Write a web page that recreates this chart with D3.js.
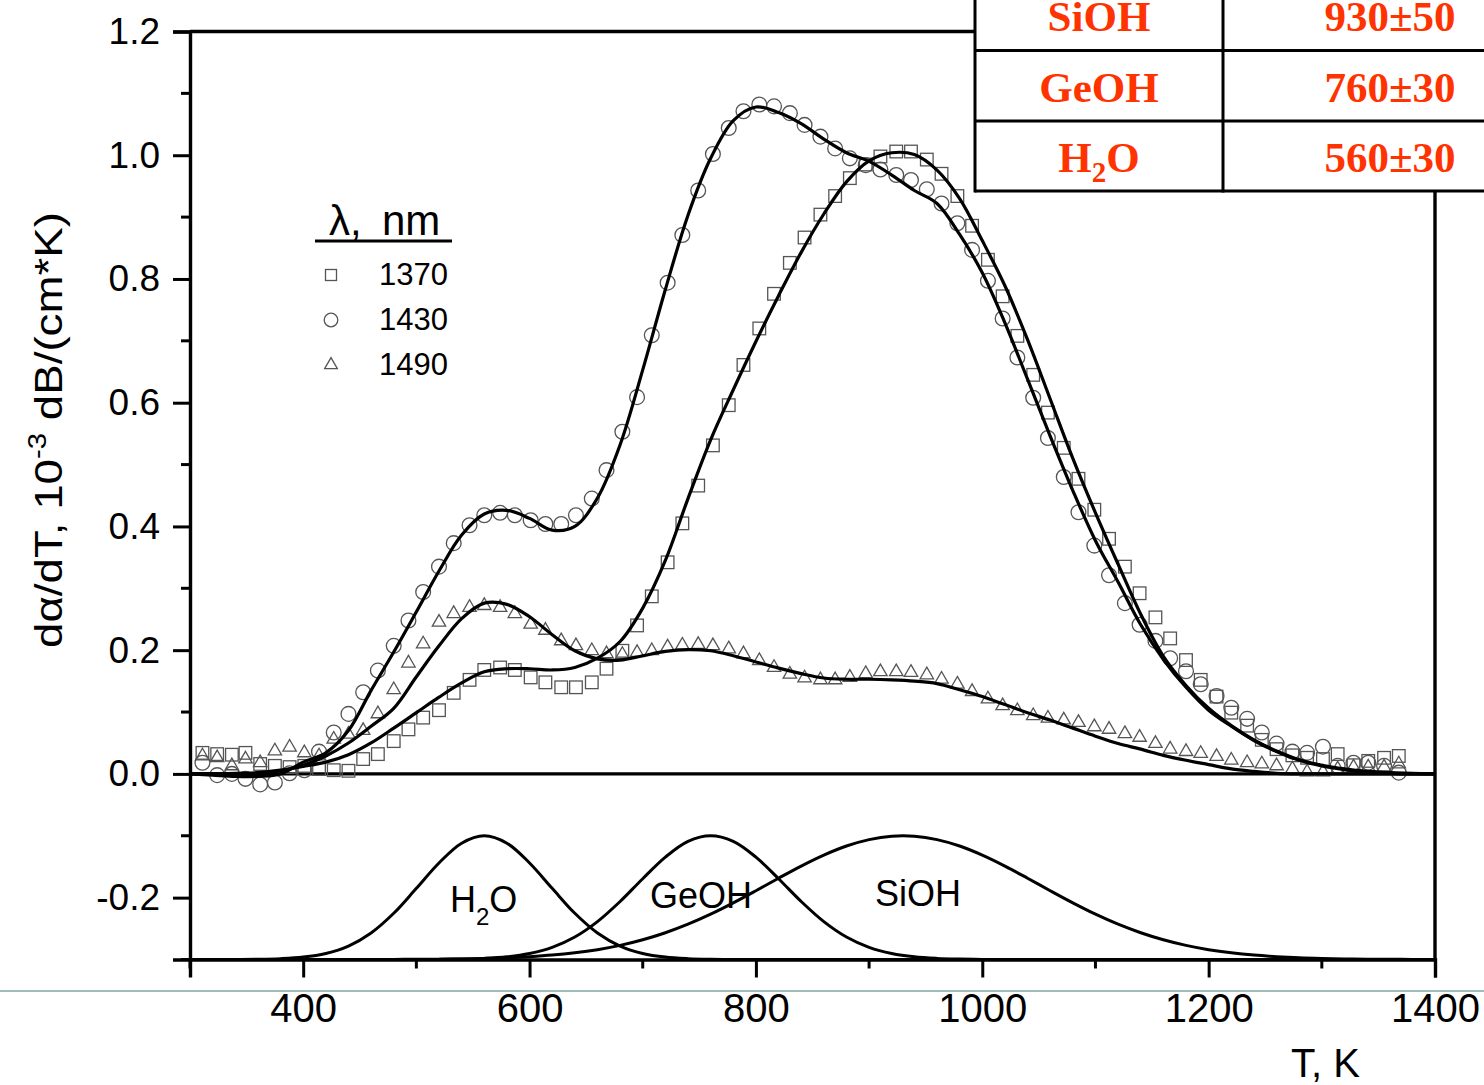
<!DOCTYPE html>
<html>
<head>
<meta charset="utf-8">
<script src="https://cdn.jsdelivr.net/npm/d3@7"></script>
<style>
  html, body { margin: 0; padding: 0; background: #fff; }
  svg { display: block; font-family: "Liberation Sans", Arial, sans-serif; }
</style>
</head>
<body>
<svg id="chart" width="1484" height="1085"></svg>
<script>
// ---------- measured points (temperature grid, K) ----------
const measT = [311, 324, 337, 349, 362, 375, 388, 401, 414, 427, 440, 453, 466, 480, 493, 506, 520, 533, 547, 560,
  574, 587, 601, 614, 628, 641, 655, 668, 682, 695, 708, 722, 735, 749, 762, 776, 789, 803, 816, 830,
  843, 857, 870, 883, 897, 910, 924, 937, 951, 964, 978, 991, 1005, 1018, 1031, 1045, 1058, 1072, 1085, 1099,
  1112, 1126, 1139, 1153, 1166, 1180, 1193, 1207, 1220, 1234, 1247, 1260, 1274, 1287, 1301, 1314, 1328, 1341, 1355, 1368];

// λ = 1370 nm
const meas1370 = [0.034, 0.032, 0.031, 0.034, 0.016, 0.013, 0.011, 0.013, 0.008, 0.006, 0.005, 0.024, 0.032, 0.053, 0.072, 0.091, 0.103, 0.131, 0.152, 0.168,
  0.172, 0.168, 0.156, 0.148, 0.140, 0.140, 0.148, 0.170, 0.199, 0.240, 0.287, 0.342, 0.405, 0.466, 0.531, 0.596, 0.661, 0.720, 0.776, 0.826,
  0.867, 0.904, 0.934, 0.963, 0.985, 0.998, 1.006, 1.006, 0.993, 0.970, 0.934, 0.886, 0.831, 0.772, 0.708, 0.645, 0.584, 0.527, 0.477, 0.427,
  0.380, 0.335, 0.292, 0.253, 0.219, 0.184, 0.152, 0.125, 0.099, 0.078, 0.055, 0.040, 0.030, 0.026, 0.024, 0.032, 0.014, 0.021, 0.026, 0.029];

// λ = 1430 nm
const meas1430 = [0.018, -0.002, 0.000, -0.008, -0.017, -0.014, 0.001, 0.006, 0.036, 0.067, 0.097, 0.132, 0.167, 0.207, 0.248, 0.294, 0.335, 0.373, 0.402, 0.418,
  0.422, 0.418, 0.410, 0.404, 0.404, 0.418, 0.445, 0.491, 0.553, 0.609, 0.709, 0.794, 0.871, 0.943, 1.002, 1.044, 1.071, 1.082, 1.079, 1.068,
  1.049, 1.030, 1.011, 0.995, 0.984, 0.977, 0.968, 0.960, 0.945, 0.922, 0.890, 0.847, 0.797, 0.736, 0.673, 0.608, 0.543, 0.480, 0.423, 0.369,
  0.321, 0.276, 0.241, 0.215, 0.187, 0.166, 0.145, 0.126, 0.107, 0.089, 0.067, 0.049, 0.036, 0.034, 0.044, 0.013, 0.018, 0.018, 0.013, 0.002];

// λ = 1490 nm
const meas1490 = [0.029, 0.026, 0.013, 0.024, 0.018, 0.037, 0.043, 0.034, 0.029, 0.056, 0.064, 0.070, 0.097, 0.136, 0.179, 0.210, 0.245, 0.259, 0.269, 0.272,
  0.269, 0.259, 0.242, 0.232, 0.215, 0.207, 0.199, 0.194, 0.193, 0.196, 0.199, 0.205, 0.208, 0.209, 0.207, 0.202, 0.194, 0.183, 0.172, 0.161,
  0.155, 0.152, 0.152, 0.156, 0.162, 0.165, 0.165, 0.164, 0.160, 0.153, 0.145, 0.133, 0.121, 0.110, 0.102, 0.094, 0.090, 0.087, 0.083, 0.076,
  0.072, 0.065, 0.059, 0.049, 0.040, 0.036, 0.033, 0.028, 0.022, 0.018, 0.016, 0.013, 0.008, 0.003, 0.003, 0.008, 0.011, 0.011, 0.011, 0.016];

// ---------- fitted curves and band components (grid, K) ----------
const gridT = [300, 320, 340, 360, 380, 400, 420, 440, 460, 480, 500, 520, 540, 560, 580, 600, 620, 640, 660, 680,
  700, 720, 740, 760, 780, 800, 820, 840, 860, 880, 900, 920, 940, 960, 980, 1000, 1020, 1040, 1060, 1080,
  1100, 1120, 1140, 1160, 1180, 1200, 1220, 1240, 1260, 1280, 1300, 1320, 1340, 1360, 1380, 1400];

const fit1370 = [0.000, 0.000, 0.001, 0.002, 0.006, 0.012, 0.019, 0.031, 0.050, 0.074, 0.099, 0.124, 0.147, 0.165, 0.170, 0.170, 0.168, 0.172, 0.187, 0.214,
  0.268, 0.345, 0.445, 0.540, 0.621, 0.699, 0.773, 0.843, 0.905, 0.957, 0.991, 1.004, 1.001, 0.976, 0.930, 0.862, 0.789, 0.702, 0.606, 0.510,
  0.422, 0.339, 0.258, 0.190, 0.143, 0.106, 0.078, 0.055, 0.037, 0.023, 0.014, 0.008, 0.004, 0.002, 0.001, 0.000];

const fit1430 = [0.000, -0.002, -0.004, -0.004, 0.000, 0.019, 0.034, 0.070, 0.135, 0.197, 0.262, 0.328, 0.386, 0.420, 0.426, 0.413, 0.394, 0.400, 0.446, 0.532,
  0.653, 0.783, 0.903, 0.995, 1.056, 1.078, 1.069, 1.051, 1.026, 1.004, 0.990, 0.968, 0.943, 0.922, 0.872, 0.810, 0.729, 0.638, 0.546, 0.458,
  0.377, 0.310, 0.241, 0.185, 0.140, 0.103, 0.077, 0.054, 0.036, 0.022, 0.013, 0.007, 0.003, 0.001, 0.000, 0.000];

const fit1490 = [0.000, 0.000, 0.000, 0.001, 0.005, 0.014, 0.029, 0.050, 0.077, 0.106, 0.157, 0.207, 0.251, 0.276, 0.274, 0.254, 0.225, 0.199, 0.186, 0.184,
  0.191, 0.198, 0.201, 0.199, 0.191, 0.181, 0.171, 0.162, 0.155, 0.153, 0.153, 0.152, 0.150, 0.146, 0.136, 0.125, 0.112, 0.099, 0.087, 0.074,
  0.061, 0.049, 0.040, 0.030, 0.022, 0.015, 0.008, 0.004, 0.001, 0.000, 0.000, 0.000, 0.000, 0.000, 0.000, 0.000];

const bandH2O = [-0.3000, -0.3000, -0.2999, -0.2996, -0.2986, -0.2961, -0.2902, -0.2782, -0.2571, -0.2253, -0.1850, -0.1440, -0.1120, -0.1000, -0.1120, -0.1440, -0.1850, -0.2253, -0.2571, -0.2782,
  -0.2902, -0.2961, -0.2986, -0.2996, -0.2999, -0.3000, -0.3000, -0.3000, -0.3000, -0.3000, -0.3000, -0.3000, -0.3000, -0.3000, -0.3000, -0.3000, -0.3000, -0.3000, -0.3000, -0.3000,
  -0.3000, -0.3000, -0.3000, -0.3000, -0.3000, -0.3000, -0.3000, -0.3000, -0.3000, -0.3000, -0.3000, -0.3000, -0.3000, -0.3000, -0.3000, -0.3000];

const bandGeOH = [-0.3000, -0.3000, -0.3000, -0.3000, -0.3000, -0.3000, -0.3000, -0.3000, -0.3000, -0.3000, -0.3000, -0.2998, -0.2993, -0.2982, -0.2957, -0.2903, -0.2803, -0.2636, -0.2387, -0.2062,
  -0.1694, -0.1345, -0.1090, -0.1000, -0.1090, -0.1345, -0.1694, -0.2062, -0.2387, -0.2636, -0.2803, -0.2903, -0.2957, -0.2982, -0.2993, -0.2998, -0.3000, -0.3000, -0.3000, -0.3000,
  -0.3000, -0.3000, -0.3000, -0.3000, -0.3000, -0.3000, -0.3000, -0.3000, -0.3000, -0.3000, -0.3000, -0.3000, -0.3000, -0.3000, -0.3000, -0.3000];

const bandSiOH = [-0.3000, -0.3000, -0.3000, -0.3000, -0.3000, -0.3000, -0.3000, -0.3000, -0.2999, -0.2998, -0.2997, -0.2994, -0.2990, -0.2983, -0.2972, -0.2954, -0.2929, -0.2892, -0.2841, -0.2772,
  -0.2681, -0.2567, -0.2429, -0.2267, -0.2084, -0.1888, -0.1686, -0.1490, -0.1313, -0.1166, -0.1062, -0.1007, -0.1007, -0.1062, -0.1166, -0.1313, -0.1490, -0.1686, -0.1888, -0.2084,
  -0.2267, -0.2429, -0.2567, -0.2681, -0.2772, -0.2841, -0.2892, -0.2929, -0.2954, -0.2972, -0.2983, -0.2990, -0.2994, -0.2997, -0.2998, -0.2999];

// ---------- labels ----------
const legendWavelengths = ["1370", "1430", "1490"];
const xTickValues = [400, 600, 800, 1000, 1200, 1400];
const yTickValues = [-0.2, 0.0, 0.2, 0.4, 0.6, 0.8, 1.0, 1.2];
const tableNames = ["SiOH", "GeOH", "H2O"];
const tableTemps = ["930±50", "760±30", "560±30"];

// ---------- drawing ----------
const svg = d3.select("#chart");
const x = d3.scaleLinear().domain([300, 1400]).range([190, 1435]);
const y = d3.scaleLinear().domain([-0.3, 1.2]).range([959.5, 31.5]);
const INK = "#000";
const MARK = "#555";
const SANS = "'Liberation Sans', Arial, sans-serif";
const SERIF = "'Liberation Serif', 'Times New Roman', serif";

// thin separator line across the page
svg.append("line").attr("x1", 0).attr("x2", 1484).attr("y1", 991).attr("y2", 991)
  .attr("stroke", "#3f7f77").attr("stroke-width", 1.2);

// frame: top and right edges
svg.append("line").attr("x1", x(300)).attr("x2", x(1400)).attr("y1", y(1.2)).attr("y2", y(1.2))
  .attr("stroke", INK).attr("stroke-width", 3.4);
svg.append("line").attr("x1", x(1400)).attr("x2", x(1400)).attr("y1", y(1.2)).attr("y2", y(-0.3))
  .attr("stroke", INK).attr("stroke-width", 3.4);

// left axis
const yAxis = d3.axisLeft(y).tickValues(yTickValues).tickSize(17).tickPadding(13)
  .tickFormat(d3.format(".1f"));
const gy = svg.append("g").attr("transform", `translate(${x(300)},0)`).call(yAxis);
gy.select(".domain").attr("stroke", INK).attr("stroke-width", 3.4);
gy.selectAll(".tick line").attr("stroke", INK).attr("stroke-width", 3);
gy.selectAll(".tick text").attr("font-size", 37).attr("fill", INK)
  .style("font-family", SANS)
  .text(d => d3.format(".1f")(d).replace("−", "-"));
const yMinor = d3.range(-3, 12, 2).map(k => k / 10);
svg.append("g").selectAll("line").data(yMinor).join("line")
  .attr("x1", x(300) - 9).attr("x2", x(300)).attr("y1", d => y(d)).attr("y2", d => y(d))
  .attr("stroke", INK).attr("stroke-width", 3);

// bottom axis
const xAxis = d3.axisBottom(x).tickValues(xTickValues).tickSize(18).tickPadding(16)
  .tickFormat(d3.format("d"));
const gx = svg.append("g").attr("transform", `translate(0,${y(-0.3)})`).call(xAxis);
gx.select(".domain").attr("stroke", INK).attr("stroke-width", 3.4);
gx.selectAll(".tick line").attr("stroke", INK).attr("stroke-width", 3);
gx.selectAll(".tick text").attr("font-size", 40).attr("fill", INK).style("font-family", SANS);
const xMinor = [300, 500, 700, 900, 1100, 1300];
svg.append("g").selectAll("line").data(xMinor).join("line")
  .attr("x1", d => x(d)).attr("x2", d => x(d)).attr("y1", y(-0.3)).attr("y2", y(-0.3) + 9)
  .attr("stroke", INK).attr("stroke-width", 3);

// zero reference line
svg.append("line").attr("x1", x(300)).attr("x2", x(1400)).attr("y1", y(0)).attr("y2", y(0))
  .attr("stroke", INK).attr("stroke-width", 3.3);

// axis titles
const yTitle = svg.append("text")
  .attr("transform", `translate(62,430) rotate(-90)`)
  .attr("text-anchor", "middle").attr("font-size", 39).attr("fill", INK)
  .attr("textLength", 436).attr("lengthAdjust", "spacingAndGlyphs");
yTitle.append("tspan").text("dα/dT, 10");
yTitle.append("tspan").attr("font-size", 25).attr("dy", -16).text("-3");
yTitle.append("tspan").attr("dy", 16).text(" dB/(cm*K)");

svg.append("text").attr("x", 1291).attr("y", 1077).attr("font-size", 40).attr("fill", INK).text("T, K");

// measured markers
const pts = (vals) => measT.map((t, i) => ({ t, v: vals[i] }));
const gm = svg.append("g").attr("fill", "none").attr("stroke", MARK).attr("stroke-width", 1.3);
gm.selectAll("rect.s").data(pts(meas1370)).join("rect").attr("class", "s")
  .attr("x", d => x(d.t) - 6.3).attr("y", d => y(d.v) - 6.3).attr("width", 12.6).attr("height", 12.6);
gm.selectAll("circle.c").data(pts(meas1430)).join("circle").attr("class", "c")
  .attr("cx", d => x(d.t)).attr("cy", d => y(d.v)).attr("r", 7.4);
const tri = d3.symbol().type(d3.symbolTriangle).size(78);
gm.selectAll("path.t").data(pts(meas1490)).join("path").attr("class", "t")
  .attr("d", tri).attr("transform", d => `translate(${x(d.t)},${y(d.v)})`);

// fitted curves and band components
const line = d3.line().x(d => x(d.t)).y(d => y(d.v)).curve(d3.curveCatmullRom.alpha(0.5));
const series = (vals) => gridT.map((t, i) => ({ t, v: vals[i] }));
[fit1370, fit1430, fit1490].forEach(vals => {
  svg.append("path").attr("d", line(series(vals))).attr("fill", "none")
    .attr("stroke", INK).attr("stroke-width", 3.2).attr("stroke-linejoin", "round");
});
[bandH2O, bandGeOH, bandSiOH].forEach(vals => {
  svg.append("path").attr("d", line(series(vals))).attr("fill", "none")
    .attr("stroke", INK).attr("stroke-width", 3).attr("stroke-linejoin", "round");
});

// band names
const h2o = svg.append("text").attr("x", 450).attr("y", 912).attr("font-size", 36).attr("fill", INK);
h2o.append("tspan").text("H");
h2o.append("tspan").attr("font-size", 24).attr("dy", 13).text("2");
h2o.append("tspan").attr("dy", -13).text("O");
svg.append("text").attr("x", 650).attr("y", 908).attr("font-size", 36).attr("fill", INK).text("GeOH");
svg.append("text").attr("x", 875).attr("y", 906).attr("font-size", 36).attr("fill", INK).text("SiOH");

// legend
const legTitle = svg.append("text").attr("y", 235).attr("font-size", 42).attr("fill", INK);
legTitle.append("tspan").attr("x", 329).text("λ,");
legTitle.append("tspan").attr("x", 382).text("nm");
svg.append("line").attr("x1", 315).attr("x2", 452).attr("y1", 241).attr("y2", 241)
  .attr("stroke", INK).attr("stroke-width", 3);
const legY = [275, 320, 365];
const lg = svg.append("g");
lg.append("rect").attr("x", 331 - 5.5).attr("y", legY[0] - 5.5).attr("width", 11).attr("height", 11)
  .attr("fill", "none").attr("stroke", MARK).attr("stroke-width", 1.3);
lg.append("circle").attr("cx", 331).attr("cy", legY[1]).attr("r", 6.8)
  .attr("fill", "none").attr("stroke", MARK).attr("stroke-width", 1.3);
lg.append("path").attr("d", d3.symbol().type(d3.symbolTriangle).size(70))
  .attr("transform", `translate(331,${legY[2]})`)
  .attr("fill", "none").attr("stroke", MARK).attr("stroke-width", 1.3);
lg.selectAll("text").data(legendWavelengths).join("text")
  .attr("x", 379).attr("y", (d, i) => legY[i] + 10).attr("font-size", 31).attr("fill", INK).text(d => d);

// table of band temperatures
const tbl = svg.append("g");
const rowLines = [50.5, 121, 191];
tbl.append("rect").attr("x", 975).attr("y", -5).attr("width", 520).attr("height", 196).attr("fill", "#fff");
tbl.selectAll("line.h").data(rowLines).join("line").attr("class", "h")
  .attr("x1", 975).attr("x2", 1490).attr("y1", d => d).attr("y2", d => d)
  .attr("stroke", INK).attr("stroke-width", 3);
[975, 1223].forEach(xx => tbl.append("line").attr("x1", xx).attr("x2", xx).attr("y1", -5).attr("y2", 192.5)
  .attr("stroke", INK).attr("stroke-width", 3));
const rowBase = [31, 102, 172];
const tStyle = (s) => s.style("font-family", SERIF)
  .attr("font-weight", "bold").attr("font-size", 43).attr("fill", "#ff3300").attr("text-anchor", "middle");
tableNames.forEach((n, i) => {
  const t = tbl.append("text").attr("x", 1099).attr("y", rowBase[i]).call(tStyle);
  if (n === "H2O") {
    t.append("tspan").text("H");
    t.append("tspan").attr("font-size", 29).attr("dy", 10).text("2");
    t.append("tspan").attr("dy", -10).text("O");
  } else {
    t.text(n);
  }
});
tableTemps.forEach((s, i) => {
  tbl.append("text").attr("x", 1390).attr("y", rowBase[i]).call(tStyle).text(s);
});
</script>
</body>
</html>
